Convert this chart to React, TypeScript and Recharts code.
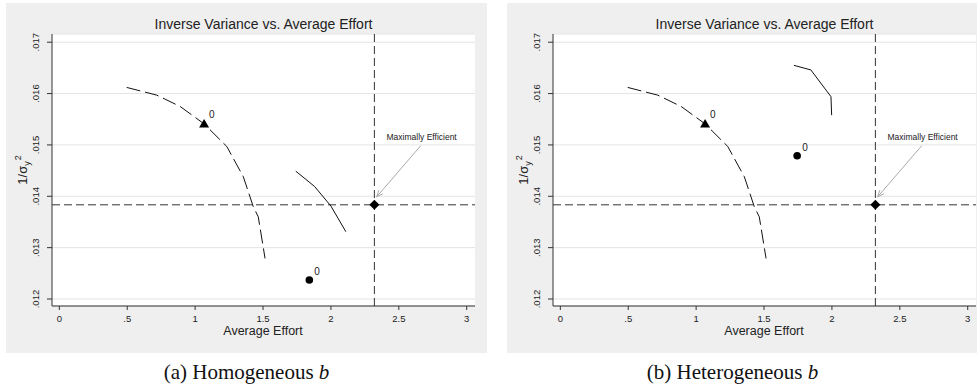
import React from "react";
import {
  ComposedChart,
  Line,
  Scatter,
  XAxis,
  YAxis,
  CartesianGrid,
  ReferenceLine,
  ReferenceDot,
} from "recharts";

// axis ticks
const xTicks = [0, 0.5, 1, 1.5, 2, 2.5, 3];
const yTicks = [0.012, 0.013, 0.014, 0.015, 0.016, 0.017];

// dashed frontier (same in both panels)
const frontierEffort = [0.496, 0.717, 0.889, 1.066, 1.233, 1.355, 1.428, 1.465, 1.515];
const frontierInvVar = [0.01612, 0.01597, 0.01575, 0.01541, 0.01497, 0.01438, 0.0138, 0.0136, 0.01279];

// solid curves
const homCurveEffort = [1.741, 1.88, 2.0, 2.11];
const homCurveInvVar = [0.01449, 0.01419, 0.01381, 0.01331];
const hetCurveEffort = [1.72, 1.845, 1.993, 1.998];
const hetCurveInvVar = [0.01655, 0.01646, 0.01594, 0.01558];

// single points: [effort, inverse variance]
const trianglePoint = [1.066, 0.01541];
const homCirclePoint = [1.841, 0.01237];
const hetCirclePoint = [1.744, 0.01479];
const efficientPoint = [2.32, 0.013834];

// annotation text anchor and arrow
const noteAt = [2.668, 0.01516];
const arrowFrom = [2.661, 0.014984];
const arrowTo = [2.337, 0.01399];

const captions = ["(a) Homogeneous ", "(b) Heterogeneous "];

const zip = (xs: number[], ys: number[]) => xs.map((x, i) => ({ x, y: ys[i] }));

const SANS = "'Liberation Sans', Arial, Helvetica, sans-serif";
const PANEL_BG = "#efefef";
const INK = "#222";

const fmtX = (v: number) => (v === 0 ? "0" : v === 0.5 ? ".5" : String(v));
const fmtY = (v: number) => v.toFixed(3).replace(/^0/, "");

function YTick(props: any) {
  const { x, y, payload } = props;
  const tx = x - 6;
  return (
    <text
      x={tx}
      y={y}
      transform={`rotate(-90 ${tx} ${y})`}
      textAnchor="middle"
      fontSize={9.5}
      fontFamily={SANS}
      fill={INK}
    >
      {fmtY(payload.value)}
    </text>
  );
}

function XTick(props: any) {
  const { x, y, payload } = props;
  return (
    <text x={x} y={y + 10} textAnchor="middle" fontSize={9.5} fontFamily={SANS} fill={INK}>
      {fmtX(payload.value)}
    </text>
  );
}

function Triangle(props: any) {
  const { cx, cy } = props;
  return (
    <g>
      <path d={`M${cx},${cy - 5} L${cx + 5},${cy + 3.5} L${cx - 5},${cy + 3.5} Z`} fill="#000" />
      <text x={cx + 5} y={cy - 6} fontSize={10} fontFamily={SANS} fill={INK}>0</text>
    </g>
  );
}

function Circle(props: any) {
  const { cx, cy } = props;
  return (
    <g>
      <circle cx={cx} cy={cy} r={3.8} fill="#000" />
      <text x={cx + 5} y={cy - 5} fontSize={10} fontFamily={SANS} fill={INK}>0</text>
    </g>
  );
}

function Diamond(props: any) {
  const { cx, cy } = props;
  return <path d={`M${cx},${cy - 5} L${cx + 5},${cy} L${cx},${cy + 5} L${cx - 5},${cy} Z`} fill="#000" />;
}

function Arrow(props: any) {
  const { x1, y1, x2, y2 } = props;
  const a = Math.atan2(y2 - y1, x2 - x1);
  const len = 7;
  const spread = 0.4;
  const h1x = x2 - len * Math.cos(a - spread);
  const h1y = y2 - len * Math.sin(a - spread);
  const h2x = x2 - len * Math.cos(a + spread);
  const h2y = y2 - len * Math.sin(a + spread);
  return (
    <g stroke="#aaa" strokeWidth={1} fill="none">
      <line x1={x1} y1={y1} x2={x2} y2={y2} />
      <polyline points={`${h1x},${h1y} ${x2},${y2} ${h2x},${h2y}`} />
    </g>
  );
}

function Note(props: any) {
  const { cx, cy } = props;
  return (
    <text x={cx} y={cy} textAnchor="middle" dominantBaseline="central" fontSize={8.5} fontFamily={SANS} fill={INK}>
      Maximally Efficient
    </text>
  );
}

function YLabel(props: any) {
  const cx = 21;
  const cy = 170 - 3;
  return (
    <text
      x={cx}
      y={cy}
      transform={`rotate(-90 ${cx} ${cy})`}
      textAnchor="middle"
      fontSize={13}
      fontFamily={SANS}
      fill={INK}
    >
      1/σ
      <tspan fontSize={9} dy={3}>y</tspan>
      <tspan fontSize={9} dy={-9} dx={1}>2</tspan>
    </text>
  );
}

function XLabel(props: any) {
  return (
    <text x={257} y={328} textAnchor="middle" dominantBaseline="central" fontSize={12.5} fontFamily={SANS} fill={INK}>
      Average Effort
    </text>
  );
}

function Panel({ curveEffort, curveInvVar, circle }: { curveEffort: number[]; curveInvVar: number[]; circle: number[] }) {
  return (
    <div style={{ position: "relative", width: 481, height: 350, background: PANEL_BG }}>
      <div
        style={{
          position: "absolute",
          left: 46,
          top: 12,
          width: 423,
          height: 18,
          lineHeight: "18px",
          textAlign: "center",
          fontFamily: SANS,
          fontSize: 14,
          color: INK,
        }}
      >
        Inverse Variance vs. Average Effort
      </div>
      <ComposedChart width={481} height={350} margin={{ top: 31, right: 12, bottom: 17, left: 10 }}>
        <CartesianGrid horizontal vertical={false} fill="#ffffff" stroke="#e4e4e4" strokeWidth={1} />
        <XAxis
          type="number"
          dataKey="x"
          domain={[-0.054, 3.061]}
          ticks={xTicks}
          allowDataOverflow
          height={30}
          tickSize={4}
          tick={<XTick />}
          axisLine={{ stroke: "#333" }}
          tickLine={{ stroke: "#333" }}
          label={<XLabel />}
        />
        <YAxis
          type="number"
          dataKey="y"
          domain={[0.011864, 0.01716]}
          ticks={yTicks}
          allowDataOverflow
          width={36}
          tickSize={5}
          tick={<YTick />}
          axisLine={{ stroke: "#333" }}
          tickLine={{ stroke: "#333" }}
          label={<YLabel />}
        />
        <ReferenceLine y={efficientPoint[1]} stroke="#333" strokeDasharray="8 4" />
        <ReferenceLine x={efficientPoint[0]} stroke="#333" strokeDasharray="8 4" />
        <Line
          data={zip(frontierEffort, frontierInvVar)}
          dataKey="y"
          stroke="#111"
          strokeWidth={1}
          strokeDasharray="14 5"
          dot={false}
          activeDot={false}
          isAnimationActive={false}
        />
        <Line
          data={zip(curveEffort, curveInvVar)}
          dataKey="y"
          stroke="#111"
          strokeWidth={1}
          dot={false}
          activeDot={false}
          isAnimationActive={false}
        />
        <Scatter data={zip([trianglePoint[0]], [trianglePoint[1]])} shape={<Triangle />} isAnimationActive={false} />
        <Scatter data={zip([circle[0]], [circle[1]])} shape={<Circle />} isAnimationActive={false} />
        <Scatter data={zip([efficientPoint[0]], [efficientPoint[1]])} shape={<Diamond />} isAnimationActive={false} />
        <ReferenceLine
          segment={[
            { x: arrowFrom[0], y: arrowFrom[1] },
            { x: arrowTo[0], y: arrowTo[1] },
          ]}
          shape={<Arrow />}
        />
        <ReferenceDot x={noteAt[0]} y={noteAt[1]} shape={<Note />} />
      </ComposedChart>
    </div>
  );
}

export default function App() {
  const captionStyle: React.CSSProperties = {
    position: "absolute",
    top: 358,
    width: 481,
    textAlign: "center",
    fontFamily: "'Liberation Serif', 'DejaVu Serif', serif",
    fontSize: 21,
    lineHeight: "28px",
    color: "#111",
  };
  return (
    <div style={{ position: "absolute", left: 0, top: 0, width: 977, height: 391, overflow: "hidden", background: "#fff" }}>
      <div style={{ position: "absolute", left: 6, top: 3 }}>
        <Panel curveEffort={homCurveEffort} curveInvVar={homCurveInvVar} circle={homCirclePoint} />
      </div>
      <div style={{ position: "absolute", left: 507, top: 3 }}>
        <Panel curveEffort={hetCurveEffort} curveInvVar={hetCurveInvVar} circle={hetCirclePoint} />
      </div>
      <div style={{ ...captionStyle, left: 6 }}>
        {captions[0]}
        <i>b</i>
      </div>
      <div style={{ ...captionStyle, left: 492 }}>
        {captions[1]}
        <i>b</i>
      </div>
    </div>
  );
}
